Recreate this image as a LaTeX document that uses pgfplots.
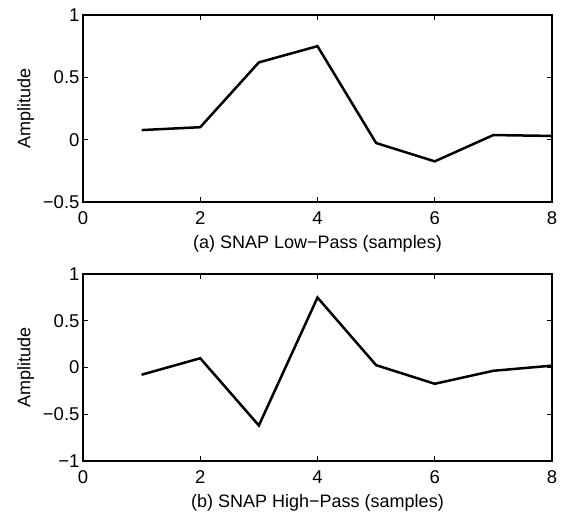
\documentclass[border=0pt]{standalone}
\usepackage{pgfplots}
\pgfplotsset{compat=1.18}
\usepackage{fontspec}
\setmainfont{Liberation Sans}

\pgfplotstableread{
x y
1 0.077
2 0.100
3 0.620
4 0.750
5 -0.027
6 -0.174
7 0.037
8 0.030
}\lowpass

\pgfplotstableread{
x y
1 -0.077
2 0.099
3 -0.620
4 0.748
5 0.025
6 -0.174
7 -0.035
8 0.020
}\highpass

\pgfplotsset{
  snap/.style={
    scale only axis,
    width=469pt, height=187pt,
    xmin=0, xmax=8,
    xtick={0,2,4,6,8},
    tick align=inside,
    major tick length=5pt,
    axis line style={line width=1.1pt},
    every tick/.style={black, line width=0.9pt},
    ticklabel style={font=\fontsize{18.5}{21}\selectfont},
    label style={font=\fontsize{18}{21}\selectfont},
    xticklabel style={yshift=-6pt},
    ylabel={Amplitude},
    ylabel style={yshift=2pt},
    xlabel style={yshift=-4pt},
    /pgf/number format/assume math mode=true,
    clip=false,
  }
}

\begin{document}
\begin{tikzpicture}
\useasboundingbox (-83pt,15pt) rectangle (482pt,-505pt);
\begin{axis}[snap, at={(0pt,0pt)}, anchor=north west,
  ymin=-0.5, ymax=1,
  ytick={-0.5,0,0.5,1},
  yticklabels={−0.5,0,0.5,1},
  xlabel={(a) SNAP Low−Pass (samples)}]
  \addplot[black, line width=2.5pt] table[x=x, y=y] {\lowpass};
\end{axis}
\begin{axis}[snap, at={(0pt,-259pt)}, anchor=north west,
  ymin=-1, ymax=1,
  ytick={-1,-0.5,0,0.5,1},
  yticklabels={−1,−0.5,0,0.5,1},
  xlabel={(b) SNAP High−Pass (samples)}]
  \addplot[black, line width=2.5pt] table[x=x, y=y] {\highpass};
\end{axis}
\end{tikzpicture}
\end{document}
